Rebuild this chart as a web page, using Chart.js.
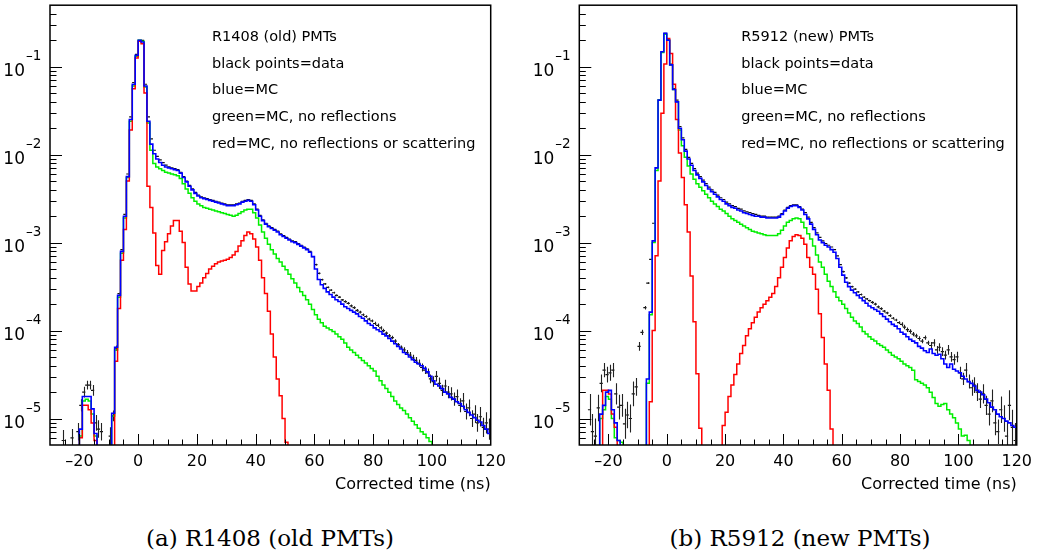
<!DOCTYPE html>
<html><head><meta charset="utf-8">
<script src="https://cdn.jsdelivr.net/npm/chart.js@4/dist/chart.umd.min.js"></script>
<style>
html,body{margin:0;padding:0;background:#fff;}
#wrap{position:relative;width:1039px;height:554px;overflow:hidden;background:#fff;}
#wrap canvas{position:absolute;top:0;}
.cap{position:absolute;top:527px;font-family:'DejaVu Serif',serif;font-size:23px;line-height:23px;color:#000;text-align:center;width:400px;white-space:nowrap;}
</style></head><body>
<div id="wrap">
<canvas id="cA" width="520" height="500" style="left:0px"></canvas>
<canvas id="cB" width="519" height="500" style="left:520px"></canvas>
<div class="cap" style="left:70px">(a) R1408 (old PMTs)</div>
<div class="cap" style="left:600px">(b) R5912 (new PMTs)</div>
</div>
<script>
const N = null;
// histogram binning (ns): bins of 1 ns from -30 to 120
const BIN_START = -30, BIN_W = 1;
// values are log10 of the normalised content of each bin; null = empty bin
const blueA = [
 N,N,N,N,N,N,N,N,N,N,
 -5.12,-4.75,-4.75,-4.75,-4.89,-5.17,N,N,N,N,
 N,-4.94,-4.19,-3.60,-3.10,-2.70,-2.25,-1.60,-1.20,-0.87,
 -0.70,-0.72,-1.22,-1.62,-1.88,-1.99,-2.05,-2.09,-2.12,-2.14,
 -2.15,-2.16,-2.17,-2.18,-2.21,-2.26,-2.31,-2.36,-2.40,-2.44,
 -2.47,-2.49,-2.50,-2.51,-2.52,-2.53,-2.54,-2.55,-2.56,-2.57,
 -2.58,-2.58,-2.58,-2.57,-2.56,-2.54,-2.53,-2.52,-2.53,-2.57,
 -2.63,-2.70,-2.75,-2.79,-2.82,-2.84,-2.86,-2.88,-2.91,-2.93,
 -2.95,-2.97,-2.99,-3.00,-3.02,-3.04,-3.06,-3.08,-3.11,-3.16,
 -3.30,-3.42,-3.48,-3.52,-3.56,-3.59,-3.62,-3.65,-3.67,-3.70,
 -3.73,-3.75,-3.77,-3.79,-3.81,-3.84,-3.86,-3.89,-3.92,-3.94,
 -3.97,-3.99,-4.01,-4.04,-4.06,-4.09,-4.12,-4.15,-4.18,-4.21,
 -4.25,-4.27,-4.30,-4.33,-4.36,-4.38,-4.40,-4.43,-4.47,-4.52,
 -4.57,-4.61,-4.63,-4.66,-4.70,-4.72,-4.76,-4.78,-4.81,-4.83,
 -4.86,-4.90,-4.93,-4.96,-4.99,-5.02,-5.04,-5.08,-5.12,-5.17];
const greenA = [
 N,N,N,N,N,N,N,N,N,N,
 -5.20,-4.80,-4.78,-4.80,-4.95,-5.20,N,N,N,N,
 N,-4.97,-4.22,-3.62,-3.12,-2.72,-2.26,-1.62,-1.22,-0.88,
 -0.70,-0.71,-1.23,-1.64,-1.95,-2.10,-2.14,-2.16,-2.18,-2.20,
 -2.21,-2.22,-2.23,-2.24,-2.27,-2.33,-2.39,-2.44,-2.49,-2.53,
 -2.56,-2.58,-2.60,-2.61,-2.62,-2.63,-2.64,-2.65,-2.66,-2.67,
 -2.68,-2.69,-2.70,-2.69,-2.67,-2.65,-2.63,-2.62,-2.62,-2.66,
 -2.72,-2.80,-2.88,-2.95,-3.02,-3.08,-3.13,-3.18,-3.22,-3.27,
 -3.31,-3.36,-3.41,-3.46,-3.51,-3.56,-3.60,-3.65,-3.70,-3.76,
 -3.82,-3.87,-3.91,-3.95,-3.97,-3.99,-4.01,-4.04,-4.07,-4.10,
 -4.14,-4.19,-4.22,-4.25,-4.28,-4.31,-4.34,-4.37,-4.40,-4.43,
 -4.46,-4.52,-4.57,-4.62,-4.66,-4.70,-4.75,-4.80,-4.84,-4.88,
 -4.91,-4.95,-4.99,-5.03,-5.07,-5.11,-5.15,-5.18,-5.22,-5.26,
 N,N,N,N,N,N,N,N,N,N,
 N,N,N,N,N,N,N,N,N,N];
const redA = [
 N,N,N,N,N,N,N,N,N,N,
 -5.22,-4.85,-4.85,-4.90,-5.05,-5.25,N,N,N,N,
 N,N,-4.35,-3.75,-3.20,-2.85,-2.30,-1.72,-1.25,-0.90,
 -0.71,-0.74,-1.30,-2.36,-2.60,-2.89,-3.26,-3.36,-3.09,-2.99,
 -2.90,-2.81,-2.75,-2.75,-2.87,-3.00,-3.28,-3.47,-3.55,-3.55,
 -3.50,-3.46,-3.40,-3.35,-3.30,-3.27,-3.24,-3.22,-3.21,-3.20,
 -3.19,-3.17,-3.14,-3.10,-3.04,-2.98,-2.92,-2.88,-2.90,-2.96,
 -3.05,-3.20,-3.40,-3.58,-3.78,-4.04,-4.30,-4.55,-4.74,-5.00,
 -5.27,N,N,N,N,N,N,N,N,N,
 N,N,N,N,N,N,N,N,N,N,
 N,N,N,N,N,N,N,N,N,N,
 N,N,N,N,N,N,N,N,N,N,
 N,N,N,N,N,N,N,N,N,N,
 N,N,N,N,N,N,N,N,N,N,
 N,N,N,N,N,N,N,N,N,N];
const dataA = [
 N,N,N,N,-5.25,N,N,-5.22,N,-5.15,
 -4.85,-4.70,-4.62,-4.62,-4.68,-5.05,-5.12,-5.15,N,N,
 -5.20,-4.97,-4.20,-3.58,-3.08,-2.68,-2.22,-1.57,-1.18,-0.86,
 -0.70,-0.70,-1.20,-1.57,-1.82,-1.95,-2.02,-2.06,-2.09,-2.12,
 -2.14,-2.15,-2.16,-2.17,-2.20,-2.25,-2.30,-2.35,-2.39,-2.43,
 -2.46,-2.48,-2.49,-2.50,-2.51,-2.52,-2.53,-2.54,-2.55,-2.56,
 -2.57,-2.57,-2.57,-2.56,-2.55,-2.53,-2.52,-2.51,-2.52,-2.56,
 -2.62,-2.69,-2.74,-2.78,-2.81,-2.83,-2.85,-2.87,-2.90,-2.92,
 -2.94,-2.96,-2.98,-2.99,-3.01,-3.03,-3.05,-3.07,-3.10,-3.16,
 -3.25,-3.35,-3.42,-3.47,-3.51,-3.54,-3.57,-3.60,-3.62,-3.65,
 -3.67,-3.69,-3.72,-3.74,-3.77,-3.79,-3.82,-3.84,-3.87,-3.89,
 -3.92,-3.94,-3.97,-4.00,-4.03,-4.06,-4.08,-4.12,-4.16,-4.19,
 -4.22,-4.25,-4.28,-4.31,-4.34,-4.37,-4.42,-4.45,-4.48,-4.55,
 -4.58,-4.52,-4.60,-4.68,-4.63,-4.70,-4.72,-4.78,-4.75,-4.85,
 -4.80,-4.92,-4.88,-5.00,-4.95,-5.05,-4.98,-5.10,-5.05,-5.12];
// half length of the data error bars, in decades
const errA = [
 0,0,0,0,0.12,0,0,0.10,0,0.10,
 0.07,0.06,0.05,0.05,0.06,0.09,0.10,0.10,0,0,
 0.10,0.06,0.03,0.01,0,0,0,0,0,0,
 0,0,0,0,0,0,0,0,0,0,
 0,0,0,0,0,0,0,0,0,0,
 0,0,0,0,0,0,0,0,0,0,
 0,0,0,0,0,0,0,0,0,0,
 0,0,0,0,0,0,0,0,0,0,
 0,0,0,0,0,0,0,0,0,0,
 0.01,0.01,0.01,0.01,0.01,0.01,0.01,0.01,0.01,0.01,
 0.015,0.015,0.015,0.015,0.015,0.015,0.015,0.015,0.015,0.015,
 0.02,0.02,0.02,0.02,0.02,0.02,0.02,0.02,0.02,0.02,
 0.03,0.03,0.035,0.035,0.04,0.04,0.045,0.045,0.05,0.05,
 0.06,0.06,0.065,0.065,0.07,0.07,0.075,0.075,0.08,0.08,
 0.09,0.09,0.095,0.095,0.10,0.10,0.11,0.11,0.12,0.12];

const blueB = [
 N,N,N,N,N,N,N,-4.95,-4.85,-4.70,
 -4.68,-4.90,-5.05,-5.25,N,N,N,N,N,N,
 N,N,N,-4.55,-3.79,-2.98,-2.15,-1.38,-0.83,-0.62,
 -0.70,-0.98,-1.26,-1.40,-1.70,-1.83,-1.96,-2.05,-2.12,-2.18,
 -2.23,-2.27,-2.31,-2.35,-2.39,-2.42,-2.45,-2.48,-2.51,-2.53,
 -2.56,-2.58,-2.60,-2.61,-2.63,-2.64,-2.66,-2.67,-2.68,-2.69,
 -2.70,-2.70,-2.71,-2.71,-2.72,-2.72,-2.72,-2.72,-2.71,-2.68,
 -2.64,-2.61,-2.59,-2.58,-2.58,-2.60,-2.63,-2.68,-2.73,-2.79,
 -2.85,-2.91,-2.97,-3.00,-3.03,-3.05,-3.08,-3.11,-3.18,-3.28,
 -3.37,-3.45,-3.50,-3.54,-3.57,-3.60,-3.63,-3.66,-3.69,-3.72,
 -3.74,-3.76,-3.78,-3.81,-3.84,-3.87,-3.90,-3.93,-3.95,-3.98,
 -4.02,-4.04,-4.07,-4.10,-4.12,-4.14,-4.18,-4.20,-4.23,-4.25,
 -4.21,-4.26,-4.28,-4.27,-4.32,-4.38,-4.42,-4.38,-4.44,-4.46,
 -4.48,-4.52,-4.55,-4.58,-4.60,-4.63,-4.68,-4.70,-4.73,-4.78,
 -4.82,-4.87,-4.90,-4.95,-4.98,-5.00,-5.03,-5.05,-5.08,-5.10];
const greenB = [
 N,N,N,N,N,N,N,-5.00,-4.90,-4.75,
 -4.78,-5.00,-5.22,-5.25,-5.27,N,N,N,N,N,
 N,N,N,-4.60,-3.82,-3.00,-2.18,-1.38,-0.84,-0.63,
 -0.70,-0.98,-1.26,-1.40,-1.72,-1.90,-2.03,-2.13,-2.22,-2.28,
 -2.33,-2.37,-2.41,-2.45,-2.49,-2.53,-2.56,-2.59,-2.62,-2.64,
 -2.67,-2.70,-2.73,-2.75,-2.77,-2.79,-2.81,-2.83,-2.85,-2.87,
 -2.88,-2.89,-2.90,-2.91,-2.92,-2.92,-2.92,-2.92,-2.90,-2.86,
 -2.81,-2.77,-2.75,-2.73,-2.72,-2.73,-2.77,-2.83,-2.90,-2.96,
 -3.04,-3.14,-3.22,-3.28,-3.36,-3.44,-3.50,-3.56,-3.62,-3.66,
 -3.70,-3.75,-3.80,-3.85,-3.89,-3.92,-3.96,-4.01,-4.04,-4.07,
 -4.10,-4.12,-4.15,-4.17,-4.19,-4.22,-4.25,-4.28,-4.30,-4.32,
 -4.35,-4.38,-4.40,-4.42,-4.45,-4.56,-4.58,-4.60,-4.62,-4.65,
 -4.70,-4.76,-4.83,-4.86,-4.84,-4.83,-4.90,-4.95,-4.99,-5.05,
 -5.12,-5.20,-5.19,-5.25,N,N,N,N,N,N,
 N,N,N,N,N,N,N,N,N,N];
const redB = [
 N,N,N,N,N,N,N,N,-4.68,-4.68,
 -4.72,-4.95,-5.10,N,N,N,N,N,N,N,
 N,N,N,N,-4.81,-4.00,-3.15,-2.30,-1.53,-0.97,
 -0.68,-0.85,-1.20,-1.60,-1.98,-2.26,-2.57,-2.88,-3.38,-3.90,
 -4.49,-5.11,N,N,N,N,N,N,N,-5.08,
 -4.93,-4.75,-4.62,-4.50,-4.38,-4.26,-4.17,-4.06,-3.98,-3.91,
 -3.85,-3.79,-3.74,-3.70,-3.66,-3.62,-3.58,-3.50,-3.40,-3.28,
 -3.17,-3.06,-2.98,-2.93,-2.91,-2.92,-2.95,-3.02,-3.17,-3.28,
 -3.36,-3.53,-3.81,-4.08,-4.38,-4.68,-5.12,N,N,N,
 N,N,N,N,N,N,N,N,N,N,
 N,N,N,N,N,N,N,N,N,N,
 N,N,N,N,N,N,N,N,N,N,
 N,N,N,N,N,N,N,N,N,N,
 N,N,N,N,N,N,N,N,N,N,
 N,N,N,N,N,N,N,N,N,N];
const dataB = [
 N,N,N,-4.90,-5.15,-5.20,-4.88,-4.60,-4.45,-4.50,
 -4.48,-4.45,-4.72,-4.87,-4.85,-5.06,-4.96,-5.00,-4.72,-4.64,
 -4.18,-4.02,-3.74,-3.46,-3.19,-2.78,-2.15,-1.38,-0.83,-0.62,
 -0.69,-0.97,-1.25,-1.38,-1.68,-1.81,-1.94,-2.03,-2.10,-2.16,
 -2.21,-2.25,-2.29,-2.33,-2.37,-2.40,-2.43,-2.46,-2.49,-2.51,
 -2.54,-2.56,-2.58,-2.59,-2.61,-2.62,-2.64,-2.65,-2.66,-2.67,
 -2.68,-2.69,-2.70,-2.70,-2.71,-2.71,-2.71,-2.71,-2.70,-2.67,
 -2.63,-2.60,-2.58,-2.57,-2.57,-2.59,-2.62,-2.66,-2.71,-2.77,
 -2.83,-2.89,-2.94,-2.98,-3.01,-3.03,-3.05,-3.08,-3.15,-3.25,
 -3.33,-3.40,-3.46,-3.50,-3.53,-3.56,-3.59,-3.62,-3.64,-3.66,
 -3.68,-3.70,-3.73,-3.75,-3.78,-3.80,-3.83,-3.86,-3.88,-3.91,
 -3.93,-3.96,-3.99,-4.01,-4.04,-4.06,-4.09,-4.12,-4.08,-4.14,
 -4.17,-4.14,-4.22,-4.19,-4.24,-4.28,-4.22,-4.30,-4.33,-4.30,
 -4.48,-4.55,-4.45,-4.58,-4.65,-4.62,-4.70,-4.78,-4.72,-4.85,
 -4.95,-4.80,-5.05,-5.15,-4.90,-5.00,-5.20,-4.85,-5.10,-5.25];
const errB = [
 0,0,0,0.18,0.20,0.20,0.15,0.10,0.08,0.09,
 0.09,0.08,0.12,0.14,0.13,0.17,0.15,0.16,0.14,0.10,
 0.05,0.03,0.02,0.01,0,0,0,0,0,0,
 0,0,0,0,0,0,0,0,0,0,
 0,0,0,0,0,0,0,0,0,0,
 0,0,0,0,0,0,0,0,0,0,
 0,0,0,0,0,0,0,0,0,0,
 0,0,0,0,0,0,0,0,0,0,
 0,0,0,0,0,0,0,0,0,0,
 0.01,0.01,0.01,0.01,0.01,0.01,0.01,0.01,0.01,0.01,
 0.015,0.015,0.015,0.015,0.015,0.015,0.015,0.015,0.015,0.015,
 0.025,0.025,0.025,0.025,0.025,0.025,0.025,0.025,0.025,0.025,
 0.04,0.04,0.045,0.045,0.05,0.05,0.055,0.055,0.06,0.06,
 0.07,0.07,0.08,0.08,0.09,0.09,0.10,0.10,0.11,0.11,
 0.13,0.13,0.14,0.14,0.15,0.15,0.17,0.17,0.20,0.20];

// axis definitions
const X_MIN = -30, X_MAX = 120;
const xTickValues = [-20, 0, 20, 40, 60, 80, 100, 120];
const Y_MIN = 5e-6, Y_MAX = 0.5;
const yDecadeExponents = [-5, -4, -3, -2, -1];
const xTitle = 'Corrected time (ns)';
const notesA = ['R1408 (old) PMTs', 'black points=data', 'blue=MC', 'green=MC, no reflections', 'red=MC, no reflections or scattering'];
const notesB = ['R5912 (new) PMTs', 'black points=data', 'blue=MC', 'green=MC, no reflections', 'red=MC, no reflections or scattering'];

const EMPTY = 1e-8; // empty bin -> drawn below the axis (clipped), as ROOT does

[['blueA',blueA],['greenA',greenA],['redA',redA],['dataA',dataA],['errA',errA],['blueB',blueB],['greenB',greenB],['redB',redB],['dataB',dataB],['errB',errB]].forEach(([n,a])=>{ if(a.length!==150) throw new Error(n+' has '+a.length+' bins'); });

function histPoints(logs){
  const pts = [];
  for (let i = 0; i < logs.length; i++) {
    pts.push({x: BIN_START + i*BIN_W, y: logs[i] === null ? EMPTY : Math.pow(10, logs[i])});
  }
  const last = logs[logs.length-1];
  pts.push({x: BIN_START + logs.length*BIN_W, y: last === null ? EMPTY : Math.pow(10, last)});
  return pts;
}
function dataPoints(logs, errs){
  const pts = [];
  for (let i = 0; i < logs.length; i++) {
    if (logs[i] === null) continue;
    pts.push({x: BIN_START + (i+0.5)*BIN_W, y: Math.pow(10, logs[i]), lv: logs[i], e: errs[i]});
  }
  return pts;
}

const rootStyle = {
  id: 'rootStyle',
  afterDatasetDraw(chart, args) {
    const ds = chart.data.datasets[args.index];
    if (!ds.isData) return;
    const {ctx, chartArea: a, scales: {y}} = chart;
    ctx.save();
    ctx.beginPath(); ctx.rect(a.left, a.top, a.right-a.left, a.bottom-a.top); ctx.clip();
    ctx.strokeStyle = '#222'; ctx.lineWidth = 1.1;
    args.meta.data.forEach((el, i) => {
      const r = ds.data[i];
      if (!r.e) return;
      const y1 = y.getPixelForValue(Math.pow(10, r.lv + r.e));
      const y2 = y.getPixelForValue(Math.pow(10, r.lv - r.e));
      ctx.beginPath(); ctx.moveTo(Math.round(el.x)+0.5, y1); ctx.lineTo(Math.round(el.x)+0.5, y2); ctx.stroke();
    });
    ctx.restore();
  },
  afterDraw(chart, args, opts) {
    const {ctx, chartArea: a, scales: {x, y}} = chart;
    ctx.save();
    ctx.strokeStyle = '#000';
    // x ticks (inside frame, bottom edge)
    ctx.lineWidth = 1;
    for (let t = X_MIN + 5; t < X_MAX; t += 5) {
      const px = Math.round(x.getPixelForValue(t)) + 0.5;
      const len = (t % 20 === 0) ? 11 : 5.5;
      ctx.beginPath(); ctx.moveTo(px, a.bottom); ctx.lineTo(px, a.bottom - len); ctx.stroke();
    }
    // y ticks (inside frame, left edge)
    for (let d = -6; d <= 0; d++) {
      for (let m = 1; m <= 9; m++) {
        const v = m * Math.pow(10, d);
        if (v <= Y_MIN * 1.001 || v >= Y_MAX * 0.999) continue;
        const py = Math.round(y.getPixelForValue(v)) + 0.5;
        const len = m === 1 ? 12 : 6.5;
        ctx.beginPath(); ctx.moveTo(a.left, py); ctx.lineTo(a.left + len, py); ctx.stroke();
      }
    }
    // frame
    ctx.lineWidth = 1.5;
    ctx.strokeRect(a.left, a.top, a.right - a.left, a.bottom - a.top);
    // y decade labels 10^k
    ctx.fillStyle = '#000';
    yDecadeExponents.forEach(k => {
      const py = y.getPixelForValue(Math.pow(10, k));
      ctx.font = '17px "DejaVu Sans"';
      ctx.textAlign = 'right'; ctx.textBaseline = 'alphabetic';
      ctx.fillText('10', a.left - 25, py + 9.5);
      ctx.font = '13.5px "DejaVu Sans"';
      ctx.textAlign = 'left';
      ctx.fillText('\u2013' + Math.abs(k), a.left - 24, py - 6.5);
    });
    // notes
    ctx.font = '14.5px "DejaVu Sans"';
    ctx.textAlign = 'left'; ctx.textBaseline = 'alphabetic';
    opts.notes.forEach((s, i) => ctx.fillText(s, a.left + 162, a.top + 35.7 + i*26.65));
    ctx.restore();
  }
};

function makeChart(id, blue, green, red, data, err, notes, yWidth, padRight) {
  return new Chart(document.getElementById(id), {
    type: 'line',
    data: { datasets: [
      {label: 'MC', data: histPoints(blue), borderColor: '#0000ff', borderWidth: 1.6, stepped: true, pointRadius: 0, fill: false, order: 1},
      {label: 'MC, no reflections or scattering', data: histPoints(red), borderColor: '#ff0000', borderWidth: 1.5, stepped: true, pointRadius: 0, fill: false, order: 2},
      {label: 'MC, no reflections', data: histPoints(green), borderColor: '#00ee00', borderWidth: 1.5, stepped: true, pointRadius: 0, fill: false, order: 3},
      {label: 'data', isData: true, data: dataPoints(data, err), showLine: false, pointStyle: 'line', pointRadius: 1.6, pointBorderWidth: 1.2, pointBorderColor: '#111', pointBackgroundColor: '#111', order: 4}
    ]},
    options: {
      responsive: false, animation: false, devicePixelRatio: 1,
      events: [],
      layout: {padding: {top: 5, right: padRight, left: 0, bottom: 0}},
      plugins: {legend: {display: false}, tooltip: {enabled: false}, rootStyle: {notes: notes}},
      scales: {
        x: {
          type: 'linear', min: X_MIN, max: X_MAX,
          grid: {display: false, drawTicks: false}, border: {display: false},
          afterBuildTicks: s => { s.ticks = xTickValues.map(v => ({value: v})); },
          afterFit: s => { s.height = 55; },
          ticks: {font: {family: 'DejaVu Sans', size: 16}, color: '#000', padding: 7, maxRotation: 0, autoSkip: false,
                  callback: v => String(v).replace('-', '\u2013')},
          title: {display: true, text: xTitle, align: 'end', color: '#000', font: {family: 'DejaVu Sans', size: 16}, padding: {top: 0, bottom: 6}}
        },
        y: {
          type: 'logarithmic', min: Y_MIN, max: Y_MAX,
          grid: {display: false, drawTicks: false}, border: {display: false},
          ticks: {display: false},
          afterFit: s => { s.width = yWidth; }
        }
      }
    },
    plugins: [rootStyle]
  });
}
makeChart('cA', blueA, greenA, redA, dataA, errA, notesA, 50, 29.3);
makeChart('cB', blueB, greenB, redB, dataB, errB, notesB, 59.3, 19);
</script>
</body></html>
